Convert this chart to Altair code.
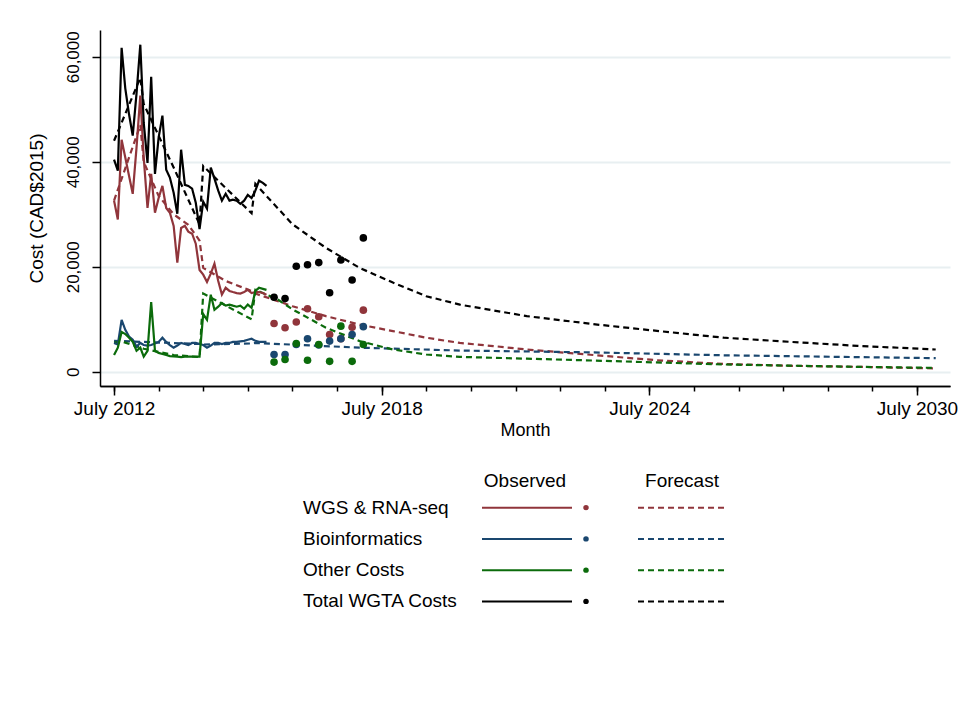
import altair as alt
import pandas as pd

START = pd.Timestamp("2012-07-01")


def month_date(m):
    return (START + pd.DateOffset(months=int(m))).strftime("%Y-%m-%d")


series_names = ["WGS & RNA-seq", "Bioinformatics", "Other Costs", "Total WGTA Costs"]
series_colors = ["#90353b", "#1a476f", "#0b6b0b", "#000000"]
header_labels = ["Observed", "Forecast"]

# Observed monthly costs, July 2012 - December 2015 (CAD$2015)
wgs_obs = [32600, 29000, 44200, 40800, 37300, 33900, 42700, 52600, 40800, 31200,
           37700, 30300, 33100, 35400, 31200, 30300, 27800, 20800, 27400, 27800,
           26700, 26300, 24400, 19400, 18500, 17100, 18700, 20600, 17300, 14700,
           16000, 15400, 15200, 15000, 14900, 15200, 15600, 15000, 15200, 15200,
           15000, 14700]
bio_obs = [5500, 5200, 9900, 8000, 6700, 6100, 4800, 5500, 5100, 5000,
           5100, 5400, 5700, 6500, 5700, 5100, 4600, 5000, 5500, 5300,
           5100, 5500, 5500, 5300, 5100, 4600, 5000, 5500, 5500, 5300,
           5500, 5500, 5700, 5700, 5800, 5900, 6100, 6300, 5900, 5700,
           5700, 5700]
oth_obs = [3200, 4600, 7600, 7200, 6500, 5700, 4000, 4600, 2900, 4000,
           13300, 4000, 3600, 3400, 3200, 3000, 2950, 2900, 2800, 2900,
           2900, 2900, 2900, 2900, 11000, 9900, 14700, 11800, 12400, 13100,
           12600, 12800, 12600, 12400, 12600, 12000, 12800, 12200, 15400, 16000,
           15800, 15600]
tot_obs = [40400, 38300, 61700, 54000, 49000, 45000, 53000, 62300, 47400, 39800,
           56200, 37700, 44600, 48800, 38500, 37000, 34100, 30100, 42300, 35600,
           35400, 34900, 32200, 27200, 32400, 31100, 38900, 36800, 34500, 32600,
           33900, 32600, 32800, 32600, 32000, 32600, 33700, 33100, 34500, 36400,
           36000, 35400]

# Observed quarterly points (months after July 2012)
dot_months = [43, 46, 49, 52, 55, 58, 61, 64, 67]
wgs_dots = [9200, 8400, 9500, 12000, 10500, 7100, 6300, 8500, 11750]
bio_dots = [3300, 3300, 5200, 6300, 5100, 5850, 6300, 7100, 8600]
oth_dots = [1850, 2350, 5400, 2200, 5200, 2000, 8700, 2000, 5200]
tot_dots = [14200, 13950, 20100, 20400, 20800, 15050, 21300, 17500, 25500]

# Forecast curves (months after July 2012, value)
wgs_fc_m = [0, 7, 8, 12, 16, 20, 23, 24, 30, 37, 38, 48, 57, 66, 75, 84, 93, 102,
            111, 129, 146, 164, 182, 200, 221]
wgs_fc_v = [32600, 47000, 40000, 33500, 30000, 28000, 25000, 19800, 17300, 15400,
            14900, 12500, 10600, 9000, 7750, 6500, 5500, 4900, 4250, 3200, 2200,
            1500, 1150, 950, 650]
bio_fc_m = [0, 23, 24, 37, 38, 66, 93, 129, 164, 221]
bio_fc_v = [5900, 5300, 5200, 5400, 5500, 4600, 4050, 3700, 3150, 2600]
oth_fc_m = [0, 2, 8, 16, 23, 24, 37, 38, 44, 48, 57, 66, 75, 84, 93, 111, 129, 164,
            200, 221]
oth_fc_v = [5500, 5800, 4400, 3200, 2800, 14900, 10000, 15600, 13800, 11900, 8400,
            5850, 4250, 3300, 2850, 2500, 2150, 1400, 950, 750]
tot_fc_m = [0, 7, 8, 16, 23, 24, 37, 38, 48, 57, 66, 75, 84, 93, 102, 111, 130, 146,
            164, 182, 200, 221]
tot_fc_v = [44000, 56000, 51000, 38900, 28100, 39200, 30200, 35800, 28100, 23600,
            19800, 17000, 14400, 12800, 11700, 10600, 9000, 7800, 6500, 5700, 4950,
            4250]

obs_vals = [wgs_obs, bio_obs, oth_obs, tot_obs]
dot_vals = [wgs_dots, bio_dots, oth_dots, tot_dots]
fc_months = [wgs_fc_m, bio_fc_m, oth_fc_m, tot_fc_m]
fc_vals = [wgs_fc_v, bio_fc_v, oth_fc_v, tot_fc_v]

obs_rows, dot_rows, fc_rows = [], [], []
for i, name in enumerate(series_names):
    for m, v in enumerate(obs_vals[i]):
        obs_rows.append({"date": month_date(m), "value": v, "series": name, "k": i})
    for m, v in zip(dot_months, dot_vals[i]):
        dot_rows.append({"date": month_date(m), "value": v, "series": name, "k": i})
    for m, v in zip(fc_months[i], fc_vals[i]):
        fc_rows.append({"date": month_date(m), "value": v, "series": name, "k": i})

obs_df = pd.DataFrame(obs_rows)
dot_df = pd.DataFrame(dot_rows)
fc_df = pd.DataFrame(fc_rows)

FONT = "Liberation Sans"

xscale = alt.Scale(
    type="utc",
    domain=[alt.DateTime(year=2012, month=3, date=8, utc=True),
            alt.DateTime(year=2031, month=3, date=28, utc=True)],
)
minor_vals = [alt.DateTime(year=y, month=7, date=1, utc=True) for y in range(2012, 2031)]
major_vals = [alt.DateTime(year=y, month=7, date=1, utc=True) for y in [2012, 2018, 2024, 2030]]

yscale = alt.Scale(domain=[-2700, 65100], nice=False, zero=False)
color = alt.Color("series:N", scale=alt.Scale(domain=series_names, range=series_colors), legend=None)

y_axis = alt.Axis(
    values=[0, 20000, 40000, 60000], format=",d", labelAngle=270,
    grid=True, gridColor="#e8eff1", gridWidth=2,
    tickSize=8, tickWidth=1.5, tickColor="black",
    domainColor="black", domainWidth=1.5,
    labelFontSize=17, labelColor="black", labelPadding=10,
    title="Cost (CAD$2015)", titleFontSize=19, titleFontWeight="normal",
    titleColor="black", titlePadding=18,
)

x_minor = alt.Axis(
    values=minor_vals, labels=False, tickSize=5, tickWidth=1.5, tickColor="black",
    domainColor="black", domainWidth=1.5, grid=False, title=None, orient="bottom",
)
x_major = alt.Axis(
    values=major_vals, format="%B %Y", tickSize=9, tickWidth=1.5, tickColor="black",
    domainColor="black", domainWidth=1.5, grid=False, orient="bottom",
    labelFontSize=19, labelColor="black", labelPadding=4,
    title="Month", titleFontSize=18, titleFontWeight="normal", titleColor="black",
    titlePadding=3,
)

fc = alt.Chart(fc_df).mark_line(strokeWidth=2.2, strokeDash=[6, 4]).encode(
    x=alt.X("date:T", scale=xscale, axis=x_minor),
    y=alt.Y("value:Q", scale=yscale, axis=y_axis),
    color=color,
    order=alt.Order("date:T"),
)
obs = alt.Chart(obs_df).mark_line(strokeWidth=2.2).encode(
    x=alt.X("date:T", scale=xscale, axis=x_major),
    y=alt.Y("value:Q", scale=yscale, axis=y_axis),
    color=color,
)
dots = alt.Chart(dot_df).mark_circle(size=58, opacity=1).encode(
    x=alt.X("date:T", scale=xscale, axis=None),
    y=alt.Y("value:Q", scale=yscale, axis=y_axis),
    color=color,
    order=alt.Order("k:Q"),
)

main = alt.layer(fc, obs, dots).resolve_axis(x="independent").properties(width=850, height=356)

# Legend
leg_df = pd.DataFrame({"series": series_names})
ybase = alt.Y("series:N", scale=alt.Scale(domain=series_names, type="point", padding=0.5), axis=None)

leg_text = alt.Chart(leg_df).mark_text(align="left", baseline="middle", fontSize=19, color="black").encode(
    y=ybase, x=alt.value(203), text="series:N"
)
leg_solid = alt.Chart(leg_df).mark_rule(strokeWidth=2).encode(
    y=ybase, x=alt.value(382), x2=alt.value(472), color=color
)
leg_dot = alt.Chart(leg_df).mark_circle(size=30, opacity=1).encode(
    y=ybase, x=alt.value(486), color=color
)
leg_dash = alt.Chart(leg_df).mark_rule(strokeWidth=2, strokeDash=[6, 4]).encode(
    y=ybase, x=alt.value(538), x2=alt.value(628), color=color
)
hdr_obs = alt.Chart(pd.DataFrame({"h": [header_labels[0]]})).mark_text(fontSize=19, color="black").encode(
    x=alt.value(425), y=alt.value(-11), text="h:N"
)
hdr_fc = alt.Chart(pd.DataFrame({"h": [header_labels[1]]})).mark_text(fontSize=19, color="black").encode(
    x=alt.value(582), y=alt.value(-11), text="h:N"
)
legend = alt.layer(leg_text, leg_solid, leg_dot, leg_dash, hdr_obs, hdr_fc).properties(width=850, height=125)

chart = alt.vconcat(main, legend, spacing=31).properties(
    padding={"left": 18, "top": 21, "right": 5, "bottom": 5}
).configure(font=FONT).configure_view(stroke="transparent")

chart.save("out.html", embed_options={"renderer": "svg", "actions": False})
